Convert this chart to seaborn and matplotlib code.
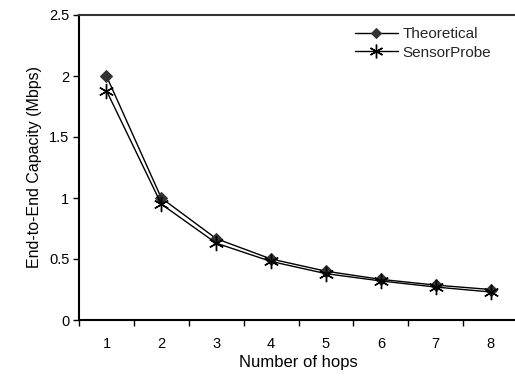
import numpy as np
import pandas as pd
import matplotlib
matplotlib.use("Agg")
import matplotlib.pyplot as plt
import seaborn as sns
from matplotlib.ticker import FixedLocator

hops = [1, 2, 3, 4, 5, 6, 7, 8]
theoretical = [2.0, 1.0, 0.667, 0.5, 0.4, 0.333, 0.286, 0.25]
sensorprobe = [1.88, 0.95, 0.63, 0.48, 0.38, 0.32, 0.27, 0.23]
y_ticks = [0, 0.5, 1, 1.5, 2, 2.5]
y_labels = ["0", "0.5", "1", "1.5", "2", "2.5"]

sns.set_theme(style="white")
plt.rcParams['font.family'] = ['Liberation Sans', 'DejaVu Sans']

fig = plt.figure(figsize=(5.15, 3.79), dpi=100)
ax = fig.add_axes([79/515, 59/379, (518-79)/515, (320-15)/379])

df = pd.DataFrame({"hops": hops, "Theoretical": theoretical, "SensorProbe": sensorprobe})

sns.lineplot(data=df, x="hops", y="Theoretical", ax=ax, color="black", lw=1.0,
             marker="D", markersize=6, markerfacecolor="#333333", markeredgecolor="#333333",
             label="Theoretical")
sns.lineplot(data=df, x="hops", y="SensorProbe", ax=ax, color="black", lw=1.0,
             marker=(6, 2, 0), markersize=11, markeredgewidth=1.0, markeredgecolor="black",
             label="SensorProbe")

ax.set_xlim(0.5, 8.5)
ax.set_ylim(0, 2.5)
ax.set_xticks(hops)
ax.set_xticklabels([str(h) for h in hops])
ax.xaxis.set_minor_locator(FixedLocator([h + 0.5 for h in [0] + hops]))
ax.tick_params(axis='x', which='major', length=0, pad=12, labelsize=10.5, colors='black')
ax.tick_params(axis='x', which='minor', length=4, width=1, direction='out', bottom=True, color='black')
ax.set_yticks(y_ticks)
ax.set_yticklabels(y_labels)
ax.tick_params(axis='y', which='major', length=4, width=1, direction='out', left=True,
               labelsize=10.5, colors='black', pad=3)

for side in ['left', 'bottom', 'top']:
    ax.spines[side].set_visible(True)
    ax.spines[side].set_color('black')
    ax.spines[side].set_linewidth(1.5)
ax.spines['top'].set_color('#333333')
ax.spines['right'].set_visible(False)

ax.set_xlabel("Number of hops", fontsize=12, color='black', labelpad=3)
ax.set_ylabel("End-to-End Capacity (Mbps)", fontsize=11.5, color='black', labelpad=5)

leg = ax.legend(loc='upper left', bbox_to_anchor=(0.597, 1.005), frameon=False, fontsize=11,
                handlelength=2.8, handletextpad=0.3, labelspacing=0.3, markerscale=0.9)

fig.savefig("out.png", dpi=100)
